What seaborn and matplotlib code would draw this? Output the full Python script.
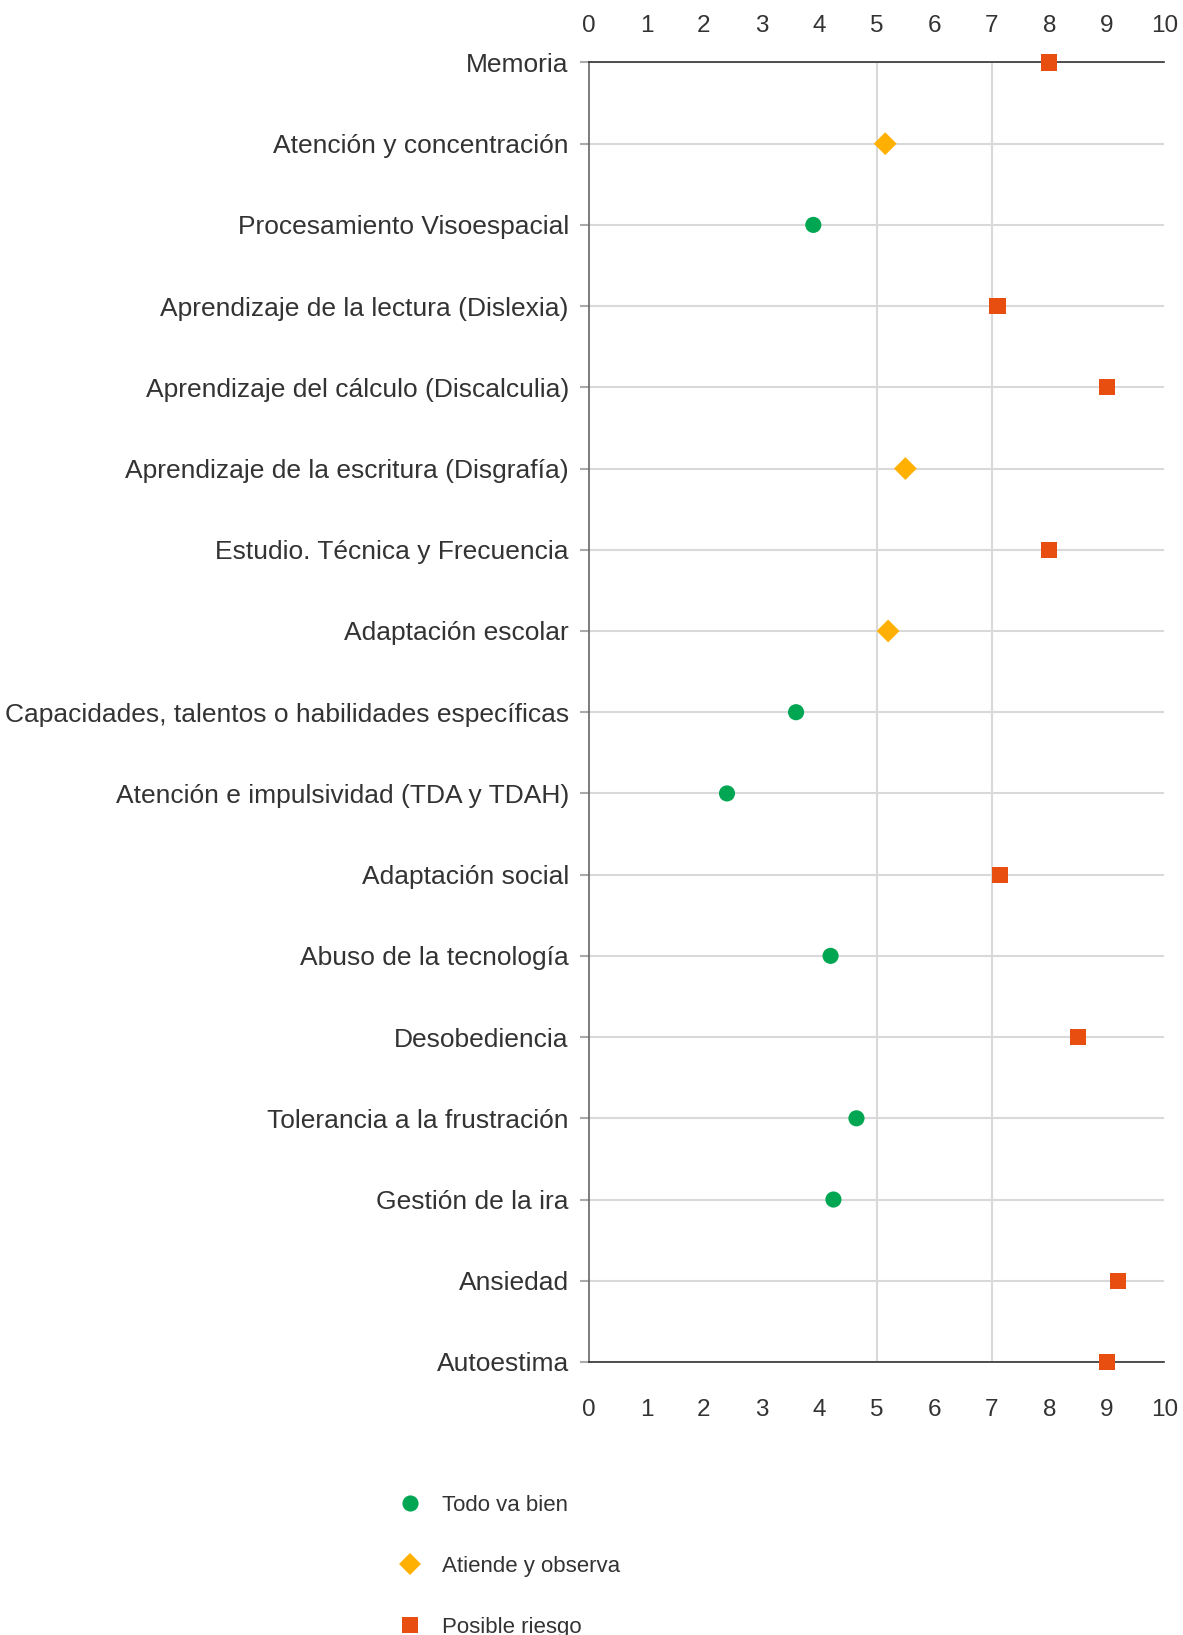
import matplotlib
matplotlib.use('Agg')
import matplotlib.pyplot as plt
import seaborn as sns
import pandas as pd

# areas evaluated, top to bottom
categories = [
    'Memoria',
    'Atención y concentración',
    'Procesamiento Visoespacial',
    'Aprendizaje de la lectura (Dislexia)',
    'Aprendizaje del cálculo (Discalculia)',
    'Aprendizaje de la escritura (Disgrafía)',
    'Estudio. Técnica y Frecuencia',
    'Adaptación escolar',
    'Capacidades, talentos o habilidades específicas',
    'Atención e impulsividad (TDA y TDAH)',
    'Adaptación social',
    'Abuso de la tecnología',
    'Desobediencia',
    'Tolerancia a la frustración',
    'Gestión de la ira',
    'Ansiedad',
    'Autoestima',
]
scores = [8.0, 5.15, 3.9, 7.1, 9.0, 5.5, 8.0, 5.2, 3.6, 2.4,
          7.15, 4.2, 8.5, 4.65, 4.25, 9.2, 9.0]
status = ['Posible riesgo', 'Atiende y observa', 'Todo va bien', 'Posible riesgo',
          'Posible riesgo', 'Atiende y observa', 'Posible riesgo', 'Atiende y observa',
          'Todo va bien', 'Todo va bien', 'Posible riesgo', 'Todo va bien',
          'Posible riesgo', 'Todo va bien', 'Todo va bien', 'Posible riesgo',
          'Posible riesgo']

status_order = ['Todo va bien', 'Atiende y observa', 'Posible riesgo']
status_colors = ['#00A651', '#FFB000', '#E84E10']
status_markers = ['o', 'D', 's']
x_ticks = list(range(0, 11))
thresholds = [5, 7]

df = pd.DataFrame({'area': categories, 'score': scores, 'status': status})

sns.set_style('white')
plt.rcParams['font.family'] = ['Liberation Sans', 'DejaVu Sans']
text_col = '#333333'

fig = plt.figure(figsize=(11.83, 16.35), dpi=100)
ax = fig.add_axes([0.4978, 0.1670, 0.4864, 0.7948])

sns.scatterplot(data=df, x='score', y='area', hue='status', style='status',
                hue_order=status_order, style_order=status_order,
                palette=dict(zip(status_order, status_colors)),
                markers=dict(zip(status_order, status_markers)),
                s=135, linewidth=0, ax=ax, clip_on=False, zorder=5)

ax.set_xlim(0, 10)
ax.set_ylim(len(categories) - 1, 0)
ax.set_xticks(x_ticks)
ax.set_xlabel('')
ax.set_ylabel('')

# horizontal grid per row, vertical guides only at the thresholds
ax.yaxis.grid(True, color='#d9d9d9', lw=1.5)
ax.xaxis.grid(False)
for v in thresholds:
    ax.axvline(v, color='#d9d9d9', lw=1.5, zorder=0)
ax.set_axisbelow(True)

for side in ['top', 'bottom']:
    ax.spines[side].set_color('#333333')
    ax.spines[side].set_linewidth(1.2)
    ax.spines[side].set_zorder(3)
ax.spines['left'].set_color('#666666')
ax.spines['left'].set_linewidth(1.2)
ax.spines['right'].set_visible(False)

ax.tick_params(axis='x', length=0, labelsize=17.5, colors=text_col, pad=27)
ax.tick_params(axis='y', length=6.5, width=1.5, color='#aaaaaa', labelsize=19,
               labelcolor=text_col, pad=8, left=True)

top = ax.secondary_xaxis('top')
top.set_xticks(x_ticks)
top.tick_params(length=0, labelsize=17.5, colors=text_col, pad=18)
top.spines['top'].set_visible(False)

sns.move_legend(ax, loc='upper left', bbox_to_anchor=(0.328, 0.0855),
                bbox_transform=fig.transFigure, frameon=False, title=None,
                fontsize=16, labelspacing=1.8, handlelength=2.0,
                handletextpad=0.45, borderpad=0, borderaxespad=0)
for t in ax.get_legend().get_texts():
    t.set_color(text_col)

fig.savefig('out.png', dpi=100)
